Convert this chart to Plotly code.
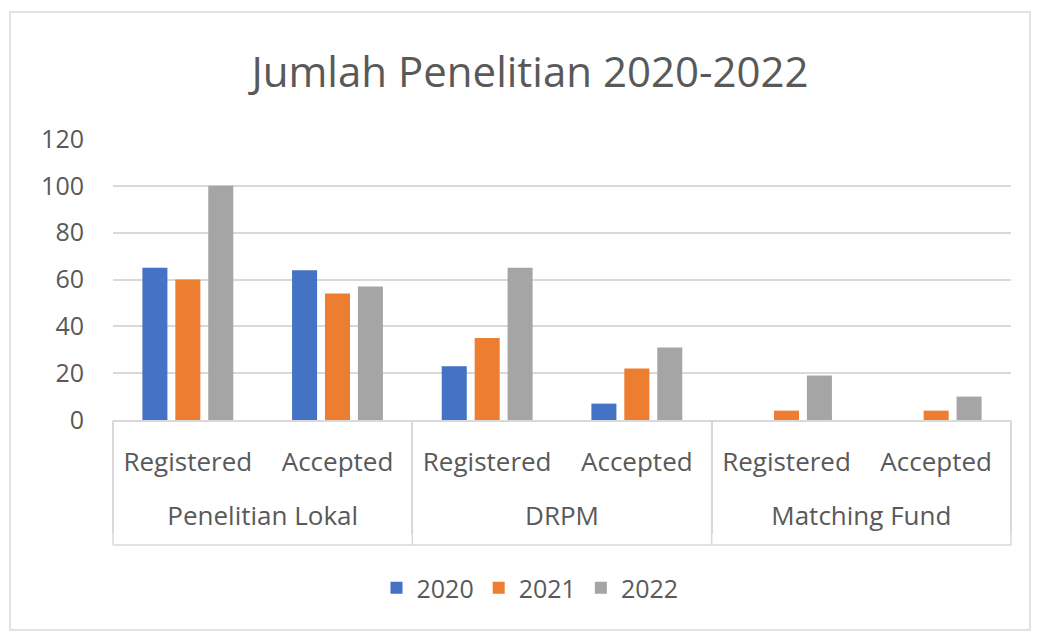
import plotly.graph_objects as go

groups = ["Penelitian Lokal", "Penelitian Lokal", "DRPM", "DRPM", "Matching Fund", "Matching Fund"]
subcats = ["Registered", "Accepted", "Registered", "Accepted", "Registered", "Accepted"]
years = ["2020", "2021", "2022"]
v2020 = [65, 64, 23, 7, 0, 0]
v2021 = [60, 54, 35, 22, 4, 4]
v2022 = [100, 57, 65, 31, 19, 10]
colors = ["#4472C4", "#ED7D31", "#A5A5A5"]
y_ticks = [0, 20, 40, 60, 80, 100, 120]

W, H = 1038, 637
L, R, T, B = 113, 1011, 139, 420
FONT = "Open Sans"
TXT = "#595959"
GRID = "#D9D9D9"

# second-level labels get an empty first line to push them lower, as in the reference
group_labels = ["<br>" + g for g in groups]

fig = go.Figure()
for name, vals, c in zip(years, [v2020, v2021, v2022], colors):
    fig.add_trace(go.Bar(x=[group_labels, subcats], y=vals, name=name, marker_color=c,
                         marker_line_width=0))

fig.update_layout(
    width=W, height=H,
    margin=dict(l=L, r=W - R, t=T, b=H - B),
    paper_bgcolor="white", plot_bgcolor="white",
    barmode="group", bargap=0.34, bargroupgap=0.24,
    font=dict(family=FONT, color=TXT),
    title=dict(text="Jumlah Penelitian 2020-2022", x=530 / W, xref="container",
               y=1 - 72 / H, yref="container", xanchor="center", yanchor="middle",
               font=dict(size=42, color=TXT, family=FONT)),
    legend=dict(orientation="h", x=530 / W, xref="container", y=1 - 588 / H, yref="container",
                xanchor="center", yanchor="middle", font=dict(size=25, color=TXT),
                itemwidth=30, traceorder="normal"),
    showlegend=True,
)
fig.update_yaxes(range=[0, 120], tickvals=y_ticks, showgrid=True, gridcolor=GRID,
                 gridwidth=1.5, zeroline=False, showline=False, ticks="",
                 tickfont=dict(size=25, color=TXT), ticklabelstandoff=28)
fig.update_xaxes(type="multicategory", showline=True, linecolor=GRID, linewidth=1.5,
                 showdividers=True, dividercolor=GRID, dividerwidth=1.5,
                 tickfont=dict(size=26, color=TXT), ticks="", ticklabelstandoff=18)
# bottom table line, divider extensions and chart frame
ybot = -(545 - B) / (B - T)
fig.add_shape(type="line", xref="paper", yref="paper", x0=0, x1=1, y0=ybot, y1=ybot,
              line=dict(color=GRID, width=1.5))
for k in range(4):
    fig.add_shape(type="line", xref="paper", yref="paper", x0=k / 3, x1=k / 3,
                  y0=ybot, y1=0, line=dict(color=GRID, width=1.5))
fig.add_shape(type="rect", xref="paper", yref="paper",
              x0=(10 - L) / (R - L), x1=(1030 - L) / (R - L),
              y0=(B - 630) / (B - T), y1=(B - 12) / (B - T),
              line=dict(color=GRID, width=1.5), layer="below")
fig.write_html("out.html")
